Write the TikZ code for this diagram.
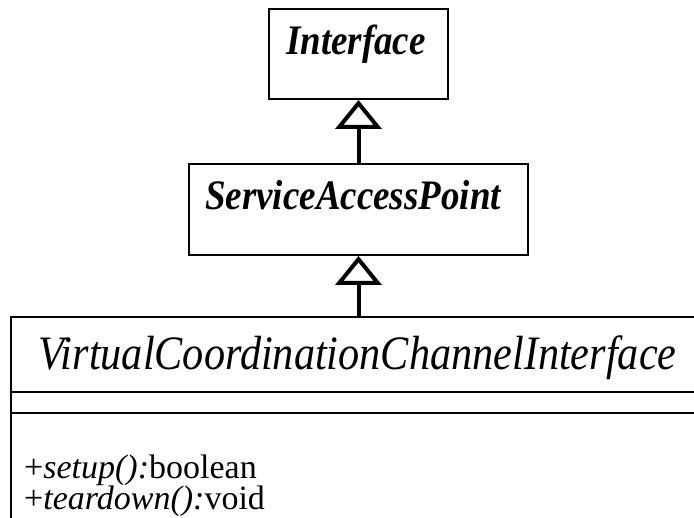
\documentclass[tikz,border=0pt]{standalone}
\usepackage{fontspec}
\setmainfont{Liberation Serif}
\newfontfamily\umlfont{Liberation Serif}[FakeStretch=0.88]
\usetikzlibrary{arrows.meta}

\begin{document}
\begin{tikzpicture}[x=1pt,y=-1pt,
  classbox/.style={rectangle,draw,line width=2pt,inner sep=0pt},
  classname/.style={anchor=base west,inner sep=0pt,font=\umlfont\fontsize{42}{46}\selectfont\bfseries\itshape},
  titlename/.style={anchor=base west,inner sep=0pt,font=\umlfont\fontsize{48}{52}\selectfont\itshape},
  member/.style={anchor=base west,inner sep=0pt,font=\fontsize{34}{37}\selectfont},
  inherits/.style={line width=4pt,-{Triangle[open,length=29pt,width=46pt]}}]
\useasboundingbox (0,0) rectangle (694,518);
\clip (0,0) rectangle (694,518);
% classes
\node [classbox,minimum width=179pt,minimum height=90pt] (iface) at (358.5,54) {};
\node [classname] (ifacename) at (286,55) {Interface};
\node [classbox,minimum width=339pt,minimum height=91pt] (sap) at (358.5,209.5) {};
\node [classname] (sapname) at (205,210) {ServiceAccessPoint};
\node [classbox,minimum width=730pt,minimum height=240pt] (vcci) at (376,437) {};
\draw [line width=2pt] (vcci.west |- 0,392) -- (vcci.east |- 0,392);
\draw [line width=2pt] (vcci.west |- 0,413) -- (vcci.east |- 0,413);
\node [titlename] (vcciname) at (38,370) {VirtualCoordinationChannelInterface};
\node [member] (setup) at (24,479) {+\textit{setup():}boolean};
\node [member] (teardown) at (24,510) {+\textit{teardown():}void};
% generalizations
\draw [inherits] (sap.north) -- (iface.south);
\draw [inherits] (sap.south |- vcci.north) -- (sap.south);
\end{tikzpicture}
\end{document}
